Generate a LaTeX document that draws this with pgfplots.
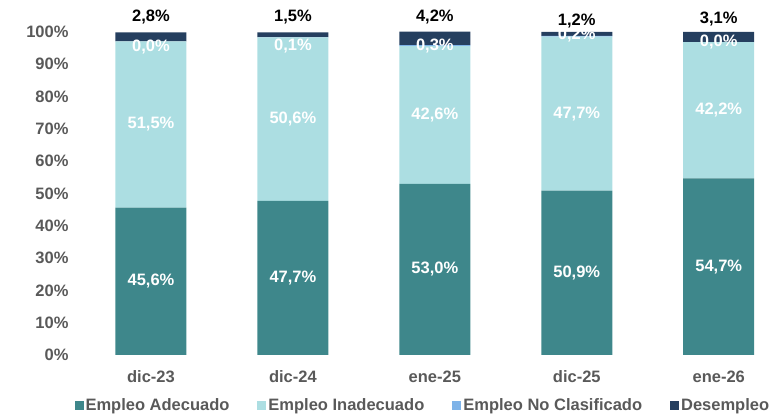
\documentclass[border=0pt]{standalone}
\usepackage{pgfplots}
\pgfplotsset{compat=1.18}
\usepackage{fontspec}
\setmainfont{Liberation Sans}
\definecolor{cAde}{HTML}{3E878B}
\definecolor{cIna}{HTML}{ACDEE2}
\definecolor{cNoc}{HTML}{7EB3E8}
\definecolor{cDes}{HTML}{253F5F}
\definecolor{cTxt}{HTML}{595959}
\newcommand{\lf}{\fontsize{16.5}{19}\selectfont\bfseries}
\pgfplotsset{base/.style={
  width=704pt, height=323pt, scale only axis,
  xmin=-0.5, xmax=4.46, ymin=0, ymax=100,
  clip=false,
  /pgf/number format/assume math mode=true,
}}
\begin{document}
\begin{tikzpicture}
\path[use as bounding box] (-80pt,-62pt) rectangle (704pt,355pt);
\begin{axis}[base,
  ybar stacked, bar width=71pt,
  axis line style={draw=none},
  major tick length=0pt,
  xtick={0,...,4},
  xticklabels={dic-23,dic-24,ene-25,dic-25,ene-26},
  ytick={0,10,...,100},
  yticklabel={\pgfmathprintnumber{\tick}\%},
  tick label style={font=\lf, text=cTxt},
  yticklabel style={xshift=-8pt},
  xticklabel style={yshift=-12pt},
  legend style={at={(0.487,-0.155)}, anchor=center, draw=none, fill=none,
    legend columns=4, font=\lf, text=cTxt,
    /tikz/every even column/.append style={column sep=26pt}},
  legend image code/.code={\fill[#1] (0pt,-4.5pt) rectangle (9pt,4.5pt);},
]
\addplot[fill=cAde, draw=none] coordinates {(0,45.6) (1,47.7) (2,53.0) (3,50.9) (4,54.7)};
\addplot[fill=cIna, draw=none] coordinates {(0,51.5) (1,50.6) (2,42.6) (3,47.7) (4,42.2)};
\addplot[fill=cNoc, draw=none] coordinates {(0,0.0) (1,0.1) (2,0.3) (3,0.2) (4,0.0)};
\addplot[fill=cDes, draw=none] coordinates {(0,2.8) (1,1.5) (2,4.2) (3,1.2) (4,3.1)};
\legend{Empleo Adecuado, Empleo Inadecuado, Empleo No Clasificado, Desempleo}
\end{axis}
\begin{axis}[base, hide axis,
  nodes near coords={\pgfmathprintnumber[fixed, fixed zerofill, precision=1, use comma]{\pgfplotspointmeta}\%},
  nodes near coords align={center},
  point meta=explicit,
]
% white labels: x, label position, value
\addplot[draw=none, mark=none, every node near coord/.append style={font=\lf, text=white, anchor=center}]
  table[x=x, y=y, meta=v] {
x y v
0 22.80 45.6
1 23.85 47.7
2 26.50 53.0
3 25.45 50.9
4 27.35 54.7
0 71.35 51.5
1 73.00 50.6
2 74.30 42.6
3 74.75 47.7
4 75.80 42.2
};
\addplot[draw=none, mark=none, every node near coord/.append style={font=\lf, text=white, anchor=center}]
  table[x=x, y=y, meta=v] {
x y v
0 95.2 0.0
1 95.8 0.1
2 95.7 0.3
3 99.1 0.2
4 96.9 0.0
};
\addplot[draw=none, mark=none, every node near coord/.append style={font=\lf, text=black, anchor=center}]
  table[x=x, y=y, meta=v] {
x y v
0 104.5 2.8
1 104.5 1.5
2 104.5 4.2
3 103.4 1.2
4 103.9 3.1
};
\end{axis}
\end{tikzpicture}
\end{document}
